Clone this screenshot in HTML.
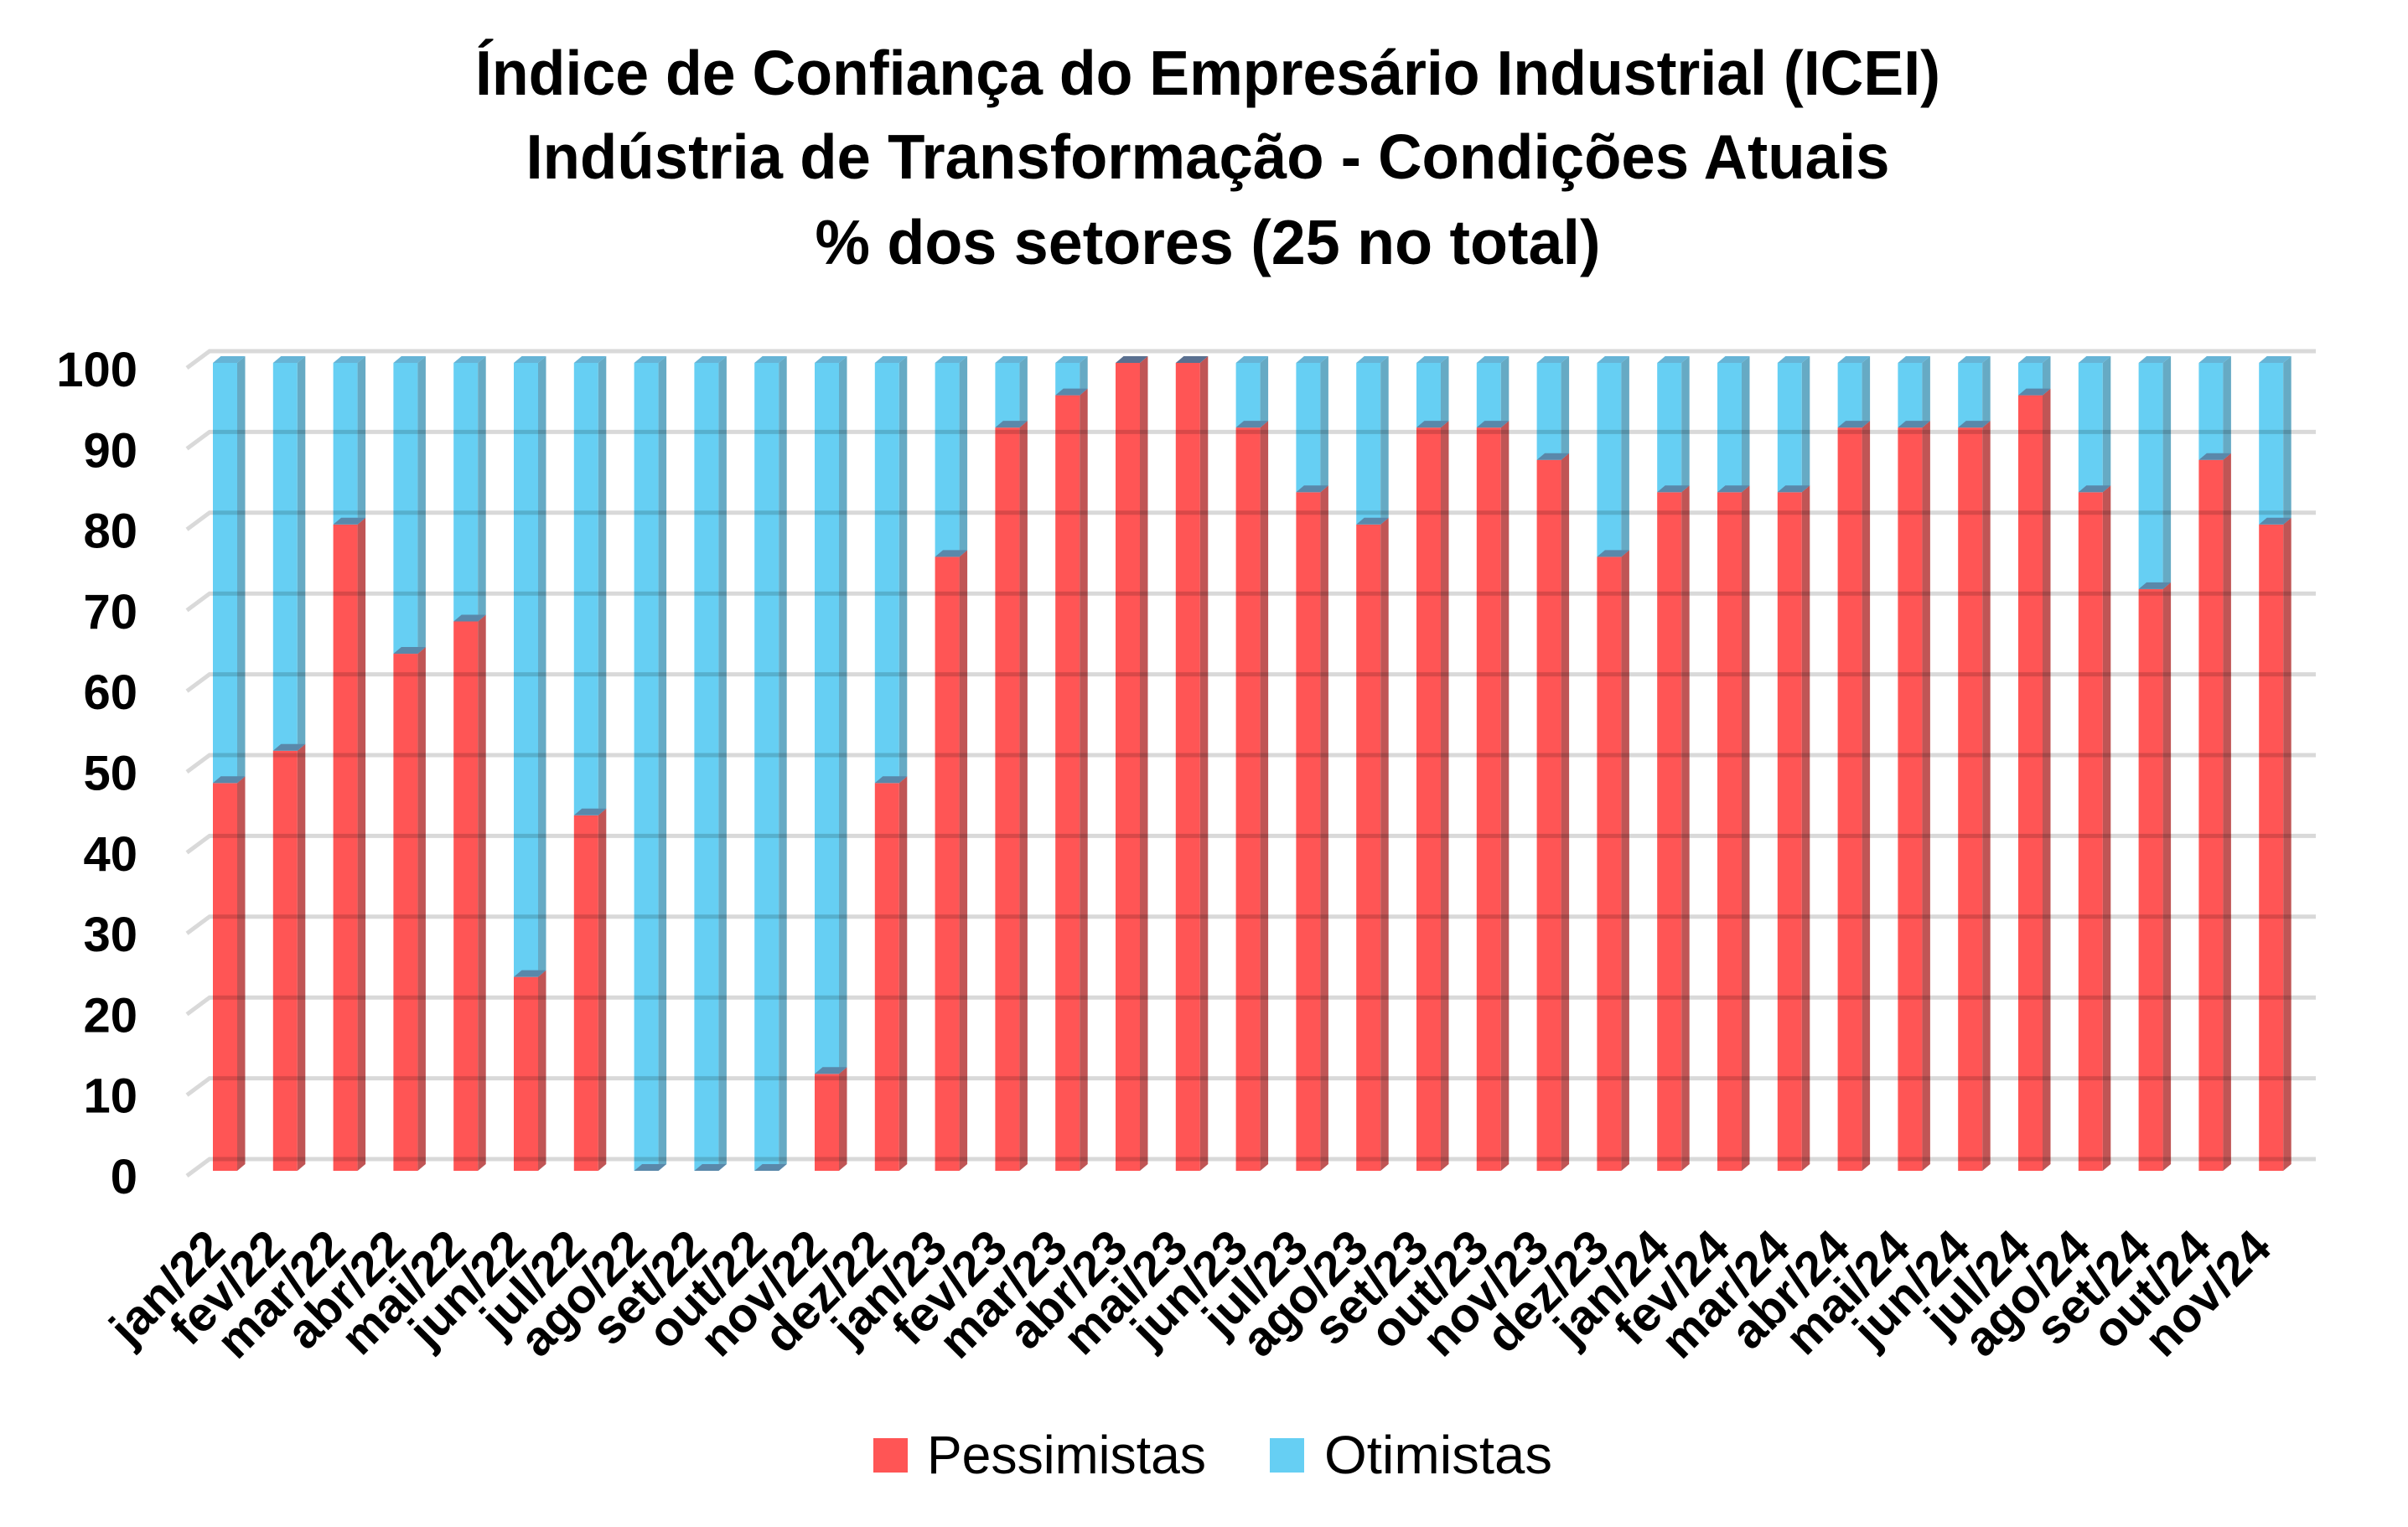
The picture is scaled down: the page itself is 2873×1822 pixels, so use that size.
<!DOCTYPE html>
<html><head><meta charset="utf-8">
<style>
html,body{margin:0;padding:0;background:#fff;}
svg{display:block;}
text{font-family:"Liberation Sans",sans-serif;}
</style></head>
<body>
<svg id="c" width="2873" height="1822" viewBox="0 0 2873 1822" xmlns="http://www.w3.org/2000/svg">
<rect width="2873" height="1822" fill="#fff"/>
<g font-weight="bold" font-size="75" text-anchor="middle" fill="#000">
<text x="1441" y="113" textLength="1748" lengthAdjust="spacingAndGlyphs">Índice de Confiança do Empresário Industrial (ICEI)</text>
<text x="1441" y="213" textLength="1627" lengthAdjust="spacingAndGlyphs">Indústria de Transformação - Condições Atuais</text>
<text x="1441" y="315" textLength="937" lengthAdjust="spacingAndGlyphs">% dos setores (25 no total)</text>
</g>
<g id="bars"></g>
<g id="grid" stroke="#000" stroke-opacity="0.15" stroke-width="5" fill="none"></g>
<g id="ylab" font-weight="bold" font-size="58" text-anchor="end" fill="#000"></g>
<g id="xlab" font-weight="bold" font-size="58" text-anchor="end" fill="#000"></g>
<g font-size="64" fill="#000">
<rect x="1042" y="1716" width="41" height="41" fill="#FF5555"/>
<text x="1106" y="1758" textLength="333" lengthAdjust="spacingAndGlyphs">Pessimistas</text>
<rect x="1515" y="1716" width="41" height="41" fill="#66CFF3"/>
<text x="1580" y="1758" textLength="272" lengthAdjust="spacingAndGlyphs">Otimistas</text>
</g>
</svg>
<script>
(function(){
var NS="http://www.w3.org/2000/svg";
var vals=[48,52,80,64,68,24,44,0,0,0,12,48,76,92,96,100,100,92,84,80,92,92,88,76,84,84,84,92,92,92,96,84,72,88,80];
var labs=["jan/22","fev/22","mar/22","abr/22","mai/22","jun/22","jul/22","ago/22","set/22","out/22","nov/22","dez/22","jan/23","fev/23","mar/23","abr/23","mai/23","jun/23","jul/23","ago/23","set/23","out/23","nov/23","dez/23","jan/24","fev/24","mar/24","abr/24","mai/24","jun/24","jul/24","ago/24","set/24","out/24","nov/24"];
function Y(v){return 1397-9.64*v;}
function el(tag,attrs,parent,txt){var e=document.createElementNS(NS,tag);for(var k in attrs)e.setAttribute(k,attrs[k]);if(txt!==undefined)e.textContent=txt;parent.appendChild(e);return e;}
var bars=document.getElementById("bars"),grid=document.getElementById("grid"),yl=document.getElementById("ylab"),xl=document.getElementById("xlab");
var W=29,D=9.5,H=8;
function poly(pts,fill){el("polygon",{points:pts.map(function(p){return p[0].toFixed(1)+","+p[1].toFixed(1)}).join(" "),fill:fill},bars);}
for(var i=0;i<vals.length;i++){
  var v=vals[i],x=254+i*71.8,xr=x+W;
  var yb=Y(0),yv=Y(v),yt=Y(100);
  if(v>0){
    el("rect",{x:x,y:yv,width:W,height:yb-yv,fill:"#FF5555"},bars);
    poly([[xr,yv],[xr+D,yv-H],[xr+D,yb-H],[xr,yb]],"#C05555");
  }
  if(v<100){
    el("rect",{x:x,y:yt,width:W,height:yv-yt,fill:"#66CFF3"},bars);
    poly([[xr,yt],[xr+D,yt-H],[xr+D,yv-H],[xr,yv]],"#66AAC4");
    poly([[x,yt],[x+D,yt-H],[xr+D,yt-H],[xr,yt]],"#66B4D6");
  }
  poly([[x,yv],[x+D,yv-H],[xr+D,yv-H],[xr,yv]],v==100?"#5A7090":"#5A88AA");
  var cx=x+W/2+3;
  el("text",{x:cx,y:1492,transform:"rotate(-45 "+cx+" 1492)"},xl,labs[i]);
}
for(var k=0;k<=10;k++){
  var fy=Y(k*10);
  el("polyline",{points:"223,"+(fy+6)+" 250,"+(fy-14)+" 2763,"+(fy-14)},grid);
  el("text",{x:164,y:(1404-96.3*k+20)},yl,String(k*10));
}
})();
</script>
</body></html>
